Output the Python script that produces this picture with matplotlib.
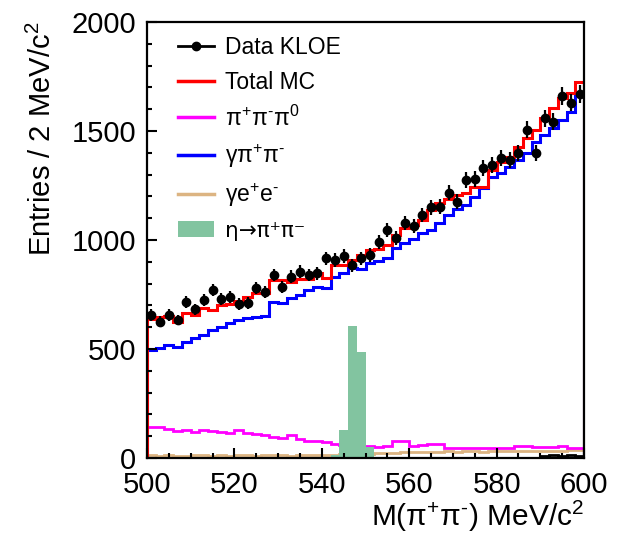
import numpy as np
import matplotlib
matplotlib.use('Agg')
import matplotlib.pyplot as plt
from matplotlib.lines import Line2D
from matplotlib.patches import Patch

plt.rcParams['font.family'] = ['Liberation Sans', 'DejaVu Sans']
plt.rcParams['mathtext.fontset'] = 'custom'
plt.rcParams['mathtext.rm'] = 'Liberation Sans'
plt.rcParams['mathtext.default'] = 'regular'

# 2 MeV bins from 500 to 600 MeV/c^2
edges = np.arange(500, 602, 2)
centers = edges[:-1] + 1

data_kloe = [656, 625, 656, 633, 717, 682, 725, 771, 728, 737,
             706, 712, 778, 763, 839, 786, 832, 855, 839, 847,
             916, 908, 927, 885, 916, 931, 992, 1046, 1010, 1079,
             1064, 1115, 1150, 1153, 1217, 1176, 1275, 1280, 1329, 1344,
             1375, 1367, 1400, 1505, 1398, 1558, 1543, 1661, 1630, 1670]

total_mc = [636, 648, 651, 625, 664, 655, 690, 680, 700, 708,
            720, 740, 757, 757, 816, 816, 807, 821, 821, 848,
            825, 885, 885, 908, 931, 955, 958, 977, 1023, 1055,
            1069, 1092, 1138, 1170, 1188, 1206, 1215, 1243, 1245, 1321,
            1359, 1380, 1428, 1467, 1505, 1559, 1605, 1651, 1674, 1726]

gamma_pipi = [495, 503, 518, 508, 534, 549, 564, 587, 602, 619,
              633, 640, 648, 650, 717, 712, 732, 748, 771, 786,
              780, 832, 848, 871, 868, 894, 905, 917, 963, 985,
              1004, 1032, 1046, 1078, 1115, 1142, 1162, 1199, 1238, 1290,
              1307, 1336, 1367, 1399, 1451, 1482, 1514, 1550, 1589, 1660]

pipipi0 = [144, 140, 132, 122, 128, 118, 127, 124, 120, 113,
           130, 116, 110, 104, 96, 90, 104, 86, 76, 80,
           72, 64, 58, 56, 54, 55, 52, 56, 76, 76,
           56, 58, 63, 62, 46, 46, 45, 47, 46, 44,
           46, 48, 57, 56, 52, 50, 50, 57, 46, 46]

gamma_ee = [12, 10, 14, 11, 9, 12, 13, 10, 12, 11,
            13, 12, 10, 14, 12, 13, 11, 14, 15, 13,
            16, 15, 17, 18, 16, 20, 22, 21, 24, 26,
            27, 28, 29, 28, 30, 29, 31, 30, 29, 31,
            30, 32, 31, 30, 33, 32, 34, 33, 35, 36]

other_bkg = [0] * 45 + [10, 12, 11, 12, 10]

eta_pipi = [6, 6, 6, 6, 6, 6, 6, 6, 6, 6,
            6, 6, 6, 6, 6, 6, 6, 6, 6, 6,
            6, 12, 128, 607, 488, 50, 6, 6, 6, 6,
            6, 6, 6, 6, 6, 6, 6, 6, 6, 6,
            6, 6, 6, 6, 6, 6, 6, 6, 6, 6]

green = '#82c4a0'
tan = '#dcb482'

fig = plt.figure(figsize=(6.25, 5.33), dpi=100)
ax = fig.add_axes([0.2352, 0.1407, 0.6992, 0.818])

ax.stairs(gamma_ee, edges, baseline=0, color=tan, lw=2)
ax.stairs(other_bkg, edges, baseline=None, color='black', lw=2)
ax.stairs(pipipi0, edges, baseline=None, color='#ff00ff', lw=2)
ax.stairs(gamma_pipi, edges, baseline=0, color='#0000ff', lw=2.2)
ax.stairs(total_mc, edges, baseline=0, color='#ff0000', lw=2.2)
ax.stairs(eta_pipi, edges, baseline=0, fill=True, color=green, lw=0)

ax.errorbar(centers, data_kloe, yerr=np.sqrt(data_kloe), fmt='o', color='black',
            ms=6, elinewidth=1.6, capsize=0, zorder=5)

ax.set_xlim(500, 600)
ax.set_ylim(0, 2000)
ax.set_xticks(np.arange(500, 601, 20))
ax.set_xticks(np.arange(500, 601, 5), minor=True)
ax.set_yticks(np.arange(0, 2001, 500))
ax.set_yticks(np.arange(0, 2001, 100), minor=True)
ax.tick_params(which='both', direction='in', top=False, right=False,
               labelsize=21, width=1.5)
ax.tick_params(which='major', length=7.5)
ax.tick_params(axis='x', which='major', pad=9)
ax.tick_params(axis='y', which='major', pad=8)
ax.tick_params(which='minor', length=3.5)
for s in ax.spines.values():
    s.set_linewidth(1.6)

ax.set_xlabel(r'M(π$^{+}$π$^{‐}$) MeV/c$^{2}$', fontsize=21.5, loc='right')
ax.xaxis.set_label_coords(1.0, -0.093)
ax.set_ylabel(r'Entries / 2 MeV/c$^{2}$', fontsize=21, loc='top')
ax.yaxis.set_label_coords(-0.205, 1.0)

handles = [
    Line2D([], [], color='black', marker='o', ms=6, lw=2),
    Line2D([], [], color='#ff0000', lw=2.5),
    Line2D([], [], color='#ff00ff', lw=2.5),
    Line2D([], [], color='#0000ff', lw=2.5),
    Line2D([], [], color=tan, lw=2.5),
    Patch(facecolor=green, edgecolor='none'),
]
labels = ['Data KLOE', 'Total MC', r'π$^{+}$π$^{‐}$π$^{0}$', r'γπ$^{+}$π$^{‐}$',
          r'γe$^{+}$e$^{‐}$', 'η→π⁺π⁻']
leg = ax.legend(handles, labels, loc='upper left', bbox_to_anchor=(0.07, 0.967),
                frameon=False, fontsize=16.5, handlelength=1.6, handletextpad=0.45,
                labelspacing=0.5, borderpad=0, borderaxespad=0)
leg.get_texts()[5].set_fontfamily('DejaVu Sans')
leg.get_texts()[5].set_fontsize(15.5)

fig.savefig('out.png', dpi=100)
